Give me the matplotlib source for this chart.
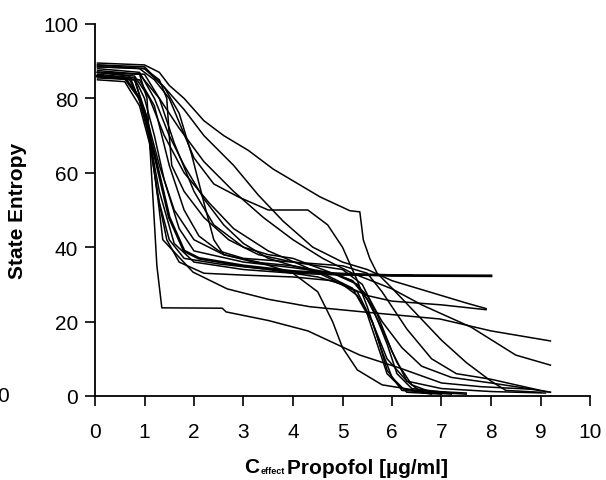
import matplotlib.pyplot as plt

plt.rcParams['font.family'] = ['Liberation Sans', 'DejaVu Sans']

# State Entropy vs. effect-site propofol, one line per patient
p01_x = [0.05, 0.9, 1.05, 1.15, 1.25, 1.35, 2.57, 2.65, 3.5, 4.3, 5.35, 6.16, 7.0, 7.8, 8.85]
p01_y = [87.0, 86.5, 80, 58, 35, 23.7, 23.6, 22.6, 20.3, 17.5, 11, 7.5, 3.5, 2.5, 1.8]

p02_x = [0.05, 1.0, 1.3, 1.5, 1.8, 2.2, 2.6, 3.1, 3.6, 4.55, 5.15, 5.35, 5.42, 5.55, 5.7, 6.0, 6.5, 7.0, 7.5, 8.0, 8.3, 9.0]
p02_y = [89.5, 89, 87, 83.5, 80, 74, 70, 66, 61, 53.5, 49.8, 49.5, 42, 37, 33, 29, 22, 15, 9, 4, 1.5, 1.0]

p03_x = [0.05, 0.9, 1.2, 1.5, 1.75, 2.0, 2.4, 2.9, 3.5, 4.3, 4.7, 5.0, 5.3, 5.5, 5.7, 5.9, 6.2, 7.0]
p03_y = [88.5, 88, 85, 80, 72, 64, 57, 53.5, 50, 50, 46, 40, 31, 24, 16, 7, 1.5, 0.8]

p04_x = [0.05, 0.6, 0.9, 1.2, 1.5, 1.8, 2.1, 3.0, 4.0, 5.0, 6.0, 8.0]
p04_y = [86, 85.5, 80, 65, 48, 39, 37, 35, 33.5, 32.8, 32.4, 32.3]

p05_x = [0.05, 0.7, 1.0, 1.3, 1.6, 2.0, 3.0, 4.0, 5.0, 6.4]
p05_y = [87, 86, 76, 55, 41, 36, 34, 33, 32.5, 32.5]

p06_x = [0.05, 1.0, 1.4, 1.8, 2.2, 2.8, 3.3, 3.8, 4.4, 5.0, 5.5, 6.0, 7.0, 7.5, 7.9]
p06_y = [89, 88, 83, 77, 70, 62, 54, 47, 40, 36, 34, 31, 27, 25, 23.5]

p07_x = [0.05, 0.8, 1.1, 1.4, 1.8, 2.3, 2.8, 3.5, 4.2, 5.0, 5.5, 6.0, 7.0, 7.9]
p07_y = [87, 86, 80, 70, 60, 52, 45, 39, 35, 30, 27, 25.5, 24.5, 23.2]

p08_x = [0.05, 0.8, 1.1, 1.37, 1.98, 2.67, 3.5, 4.34, 5.5, 6.97, 8.0, 9.2]
p08_y = [86, 85, 72, 42, 33.3, 28.8, 26, 24, 22.5, 20.7, 17.5, 14.8]

p09_x = [0.05, 0.9, 1.3, 1.7, 2.2, 2.8, 3.4, 4.0, 4.6, 5.2, 6.0, 6.6, 7.6, 8.5, 9.2]
p09_y = [87.5, 86.5, 80, 72, 63, 55, 48, 42, 37, 33, 28.8, 24.5, 18.5, 11, 8.3]

p10_x = [0.05, 0.6, 0.9, 1.1, 1.3, 1.5, 1.8, 2.5, 3.5, 4.5, 5.0, 5.3, 5.6, 5.8, 6.0, 6.3, 7.0]
p10_y = [85, 84.5, 78, 68, 52, 42, 37, 35.5, 34, 32, 30, 27, 20, 12, 5, 1, 0.5]

p11_x = [0.05, 0.8, 1.0, 1.2, 1.4, 1.7, 2.0, 3.0, 4.0, 4.8, 5.3, 5.6, 5.9, 6.1, 6.4, 7.2]
p11_y = [86.5, 85.5, 80, 70, 58, 45, 39, 36, 34.5, 33, 30, 24, 14, 6, 2, 0.8]

p12_x = [0.05, 0.9, 1.2, 1.5, 1.8, 2.2, 2.6, 3.0, 3.5, 4.0, 4.6, 5.2, 5.5, 5.7, 5.9, 6.2, 6.8]
p12_y = [88, 87, 80, 70, 62, 53, 46, 41, 37, 35, 33, 29, 22, 14, 6, 2, 0.5]

p13_x = [0.05, 1.0, 1.4, 1.7, 1.95, 2.2, 2.4, 2.6, 3.2, 4.0, 4.8, 5.2, 5.5, 5.8, 6.1, 6.4, 6.8, 7.5]
p13_y = [89, 88.5, 83, 76, 65, 52, 42, 38, 36, 35, 33, 31, 26, 18, 9, 3, 1, 0.5]

p14_x = [0.05, 0.7, 1.0, 1.3, 1.6, 2.0, 2.6, 3.3, 4.0, 4.5, 4.8, 5.0, 5.3, 5.8, 6.5, 7.5]
p14_y = [86, 85, 77, 62, 50, 42, 38, 36, 33, 28, 20, 13, 7, 3, 1.5, 0.8]

p15_x = [0.05, 1.0, 1.3, 1.45, 1.5, 1.55, 1.8, 2.2, 2.7, 3.3, 4.0, 5.0, 5.4, 5.7, 6.0, 6.3, 6.6, 7.2]
p15_y = [88.5, 88, 85, 80, 70, 62, 55, 48, 42, 38, 36, 34, 30, 22, 12, 4, 1, 0.5]

p16_x = [0.05, 1.0, 1.3, 1.6, 2.0, 2.4, 3.0, 3.5, 4.0, 4.6, 5.2, 5.5, 5.8, 6.2, 6.6, 7.2, 8.0, 8.5, 9.2]
p16_y = [87, 86.5, 80, 68, 55, 46, 40, 38, 37, 34, 31, 27, 20, 13, 8, 5, 3.5, 2.5, 1.0]

p17_x = [0.05, 0.9, 1.2, 1.5, 1.8, 2.1, 2.5, 3.0, 4.0, 5.0, 5.5, 5.8, 6.3, 6.8, 7.3, 8.0, 9.0, 9.2]
p17_y = [86, 85, 78, 62, 50, 43, 39, 37, 36, 35, 33, 28, 18, 10, 6, 4.5, 1.5, 1.0]

p18_x = [0.05, 0.8, 1.05, 1.25, 1.45, 1.7, 2.2, 3.0, 4.0, 4.8, 5.3, 5.6, 5.9, 6.3, 7.0, 8.0, 9.1]
p18_y = [85.5, 85, 75, 55, 42, 36, 33, 32.5, 32, 31, 28, 20, 10, 4, 2, 1.2, 0.8]

patients = [(p01_x, p01_y), (p02_x, p02_y), (p03_x, p03_y), (p04_x, p04_y),
            (p05_x, p05_y), (p06_x, p06_y), (p07_x, p07_y), (p08_x, p08_y),
            (p09_x, p09_y), (p10_x, p10_y), (p11_x, p11_y), (p12_x, p12_y),
            (p13_x, p13_y), (p14_x, p14_y), (p15_x, p15_y), (p16_x, p16_y),
            (p17_x, p17_y), (p18_x, p18_y)]

x_ticks = list(range(0, 11))
y_ticks = [0, 20, 40, 60, 80, 100]

fig = plt.figure(figsize=(6.06, 4.81), dpi=100)
ax = fig.add_axes([95 / 606, 1 - 397 / 481, 495 / 606, 372 / 481])

for i, (px, py) in enumerate(patients):
    lw = 2.0 if i == 3 else 1.1
    ax.plot(px, py, color='black', lw=lw)

ax.set_xlim(0, 10)
ax.set_ylim(0, 100)
ax.set_xticks(x_ticks)
ax.set_yticks(y_ticks)
ax.spines['top'].set_visible(False)
ax.spines['right'].set_visible(False)
for s in ['left', 'bottom']:
    ax.spines[s].set_linewidth(1.3)
ax.tick_params(axis='both', direction='out', length=7, width=1.2, labelsize=15, colors='black')
ax.tick_params(axis='x', pad=12)
ax.tick_params(axis='y', pad=5)

ax.set_ylabel('State Entropy', fontsize=15, fontweight='bold', labelpad=12)

# x label: big C with a tiny "effect" subscript, then the rest
ax.set_xlabel('Propofol [µg/ml]', fontsize=15, fontweight='bold', labelpad=12)
ax.xaxis.label.set_position((0.55, 0))
fig.canvas.draw()
rend = fig.canvas.get_renderer()
lbl = ax.xaxis.label.get_window_extent(rend)
sub = fig.text((lbl.x0 - 2) / 606, lbl.y0 / 481 + 0.004, 'effect', fontsize=6.5,
               fontweight='bold', ha='right', va='bottom')
sb = sub.get_window_extent(rend)
fig.text((sb.x0 - 1) / 606, lbl.y0 / 481 + 0.002, 'C', fontsize=15, fontweight='bold',
         ha='right', va='bottom')

# stray tick label cut off at the left edge of the source image
fig.text(-3 / 606, 1 - 397 / 481, '0', fontsize=15, ha='left', va='center')

fig.savefig('out.png', dpi=100)
